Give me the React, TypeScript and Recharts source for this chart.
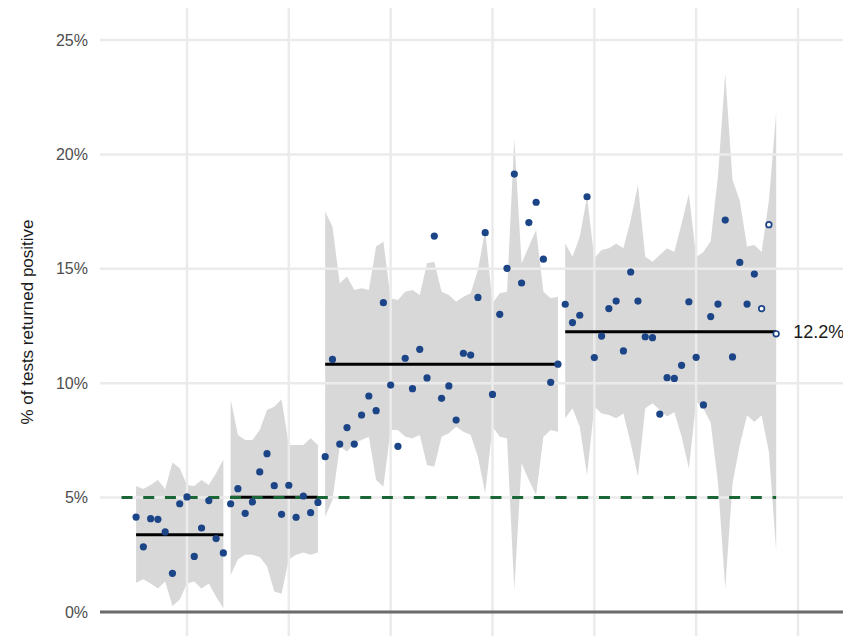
import React from 'react';
import { ComposedChart, Area, Line, XAxis, YAxis, ReferenceLine, LabelList } from 'recharts';

// Daily % of tests returned positive (index = day number)
const values: number[] = [
  // period 1
  4.15, 2.85, 4.08, 4.05, 3.50, 1.69, 4.73, 5.03, 2.43, 3.67, 4.87, 3.21, 2.58,
  // period 2
  4.73, 5.39, 4.31, 4.81, 6.12, 6.92, 5.52, 4.27, 5.54, 4.14, 5.07, 4.34, 4.79,
  // period 3
  6.79, 11.04, 7.34, 8.06, 7.34, 8.61, 9.44, 8.80, 13.52, 9.92, 7.24, 11.09, 9.76, 11.48, 10.23, 16.43,
  9.34, 9.88, 8.39, 11.31, 11.23, 13.75, 16.58, 9.51, 13.01, 15.02, 19.14, 14.38, 17.02, 17.91, 15.42, 10.04, 10.83,
  // period 4
  13.45, 12.65, 12.97, 18.15, 11.12, 12.06, 13.26, 13.59, 11.41, 14.86, 13.59, 12.03, 11.99, 8.65, 10.24,
  10.21, 10.78, 13.56, 11.13, 9.05, 12.91, 13.46, 17.13, 11.15, 15.28, 13.46, 14.77, 13.26, 16.93, 12.16,
];

const upper: number[] = [
  5.51, 5.38, 5.55, 5.77, 5.36, 6.53, 6.28, 5.55, 5.51, 5.77, 5.55, 6.06, 6.67,
  9.30, 7.74, 7.52, 7.52, 7.95, 8.83, 8.97, 9.30, 7.30, 7.30, 7.30, 7.59, 7.30,
  17.50, 16.84, 14.37, 14.66, 14.07, 14.15, 14.07, 15.97, 16.18, 13.71, 13.64, 14.0, 14.07, 13.86, 15.24, 15.31,
  14.0, 13.86, 13.56, 13.78, 13.93, 14.95, 16.70, 13.49, 13.93, 14.0, 20.70, 15.24, 15.97, 16.70, 14.0, 13.71, 13.78,
  16.11, 15.53, 16.40, 18.15, 15.46, 15.82, 15.90, 16.11, 15.90, 17.13, 18.66, 15.53, 15.31, 15.60, 15.90,
  15.74, 16.97, 18.28, 15.51, 15.74, 16.20, 19.05, 23.51, 18.89, 17.97, 15.97, 16.04, 15.74, 17.97, 21.82,
];

const lower: number[] = [
  1.28, 1.43, 1.25, 1.03, 1.33, 0.26, 0.55, 1.25, 1.33, 1.03, 1.25, 0.67, 0.16,
  1.6, 2.3, 2.5, 2.5, 2.4, 2.0, 0.9, 0.8, 2.3, 2.5, 2.6, 2.5, 2.6,
  4.17, 4.90, 7.23, 7.01, 7.37, 7.52, 7.66, 5.77, 5.48, 7.95, 7.95, 7.66, 7.59, 7.74, 6.42, 6.35,
  7.66, 7.81, 8.10, 7.88, 7.74, 6.79, 5.19, 8.10, 7.66, 7.59, 0.96, 6.50, 5.77, 5.11, 7.66, 7.95, 7.88,
  8.47, 8.90, 8.10, 5.99, 8.97, 8.68, 8.61, 8.47, 8.68, 7.37, 5.91, 8.90, 9.12, 8.83, 8.54,
  8.74, 7.66, 6.27, 9.20, 8.89, 8.27, 5.66, 1.04, 5.6, 7.3, 8.6, 8.3, 8.6, 7.0, 2.7,
];

// periods: first and last day index, and the period mean
const periodStart: number[] = [0, 13, 26, 59];
const periodEnd: number[] = [12, 25, 58, 88];
const periodMean: number[] = [3.38, 5.01, 10.83, 12.25];
const provisionalDays = 3; // last days shown as open circles
const threshold = 5;
const thresholdFrom = -2;
const currentLabel = '12.2%';

const yTicks: number[] = [0, 5, 10, 15, 20, 25];
const xGridTicks: number[] = [7, 21, 35, 49, 63, 77, 91];

const BLUE = '#1c4587';
const GREEN = '#1b6636';
const GRID = '#ebebeb';

type Row = { [k: string]: any };
const rows: Row[] = [];
for (let i = thresholdFrom; i < values.length; i++) {
  const r: Row = { i, thr: threshold };
  if (i >= 0) {
    const isOpen = i >= values.length - provisionalDays;
    r.vf = isOpen ? null : values[i];
    r.vo = isOpen ? values[i] : null;
    periodStart.forEach((s, p) => {
      if (i >= s && i <= periodEnd[p]) {
        r['band' + p] = [lower[i], upper[i]];
        r['mean' + p] = periodMean[p];
      }
    });
  }
  rows.push(r);
}
const lastRow = rows.length - 1;

export default function App() {
  return (
    <div style={{ position: 'absolute', left: 0, top: 0, fontFamily: '"Liberation Sans", Arial, sans-serif' }}>
      <ComposedChart width={843} height={636} data={rows} margin={{ top: 8, right: 0, bottom: 0, left: 0 }}>
        <XAxis
          type="number"
          dataKey="i"
          domain={[-4.96, 97.19]}
          ticks={xGridTicks}
          allowDataOverflow
          tick={false}
          tickLine={false}
          axisLine={false}
          height={0}
        />
        <YAxis
          type="number"
          domain={[-1.05, 26.4]}
          ticks={yTicks}
          allowDataOverflow
          width={100}
          tickLine={false}
          axisLine={false}
          tickSize={0}
          tickMargin={12}
          tickFormatter={(v: number) => `${v}%`}
          tick={{ fill: '#4d4d4d', fontSize: 16 }}
          label={{
            value: '% of tests returned positive',
            angle: -90,
            position: 'insideLeft',
            offset: 27,
            style: { textAnchor: 'middle', fill: '#1a1a1a', fontSize: 17 },
          }}
        />
        {yTicks.map((t) => (
          <ReferenceLine key={'hy' + t} y={t} stroke={GRID} strokeWidth={2.5} />
        ))}
        {xGridTicks.map((t) => (
          <ReferenceLine key={'vx' + t} x={t} stroke={GRID} strokeWidth={2.5} />
        ))}
        <ReferenceLine y={0} stroke="#6b6b6b" strokeWidth={3} />
        {periodStart.map((_, p) => (
          <Area
            key={'band' + p}
            dataKey={'band' + p}
            fill="#9e9e9e"
            fillOpacity={0.4}
            stroke="none"
            isAnimationActive={false}
            activeDot={false}
          />
        ))}
        {periodStart.map((_, p) => (
          <Line
            key={'mean' + p}
            dataKey={'mean' + p}
            stroke="#000"
            strokeWidth={3}
            dot={false}
            activeDot={false}
            isAnimationActive={false}
          >
            {p === periodStart.length - 1 ? (
              <LabelList
                dataKey={'mean' + p}
                content={(props: any) =>
                  props.index === lastRow ? (
                    <text x={props.x + 17} y={props.y} dy={6} fontSize={18} fill="#1a1a1a">
                      {currentLabel}
                    </text>
                  ) : null
                }
              />
            ) : null}
          </Line>
        ))}
        <Line
          dataKey="thr"
          stroke={GREEN}
          strokeWidth={3}
          strokeDasharray="11 10.7"
          dot={false}
          activeDot={false}
          isAnimationActive={false}
        />
        <Line
          dataKey="vf"
          stroke="none"
          dot={{ r: 3.6, fill: BLUE, stroke: BLUE, strokeWidth: 0 }}
          activeDot={false}
          isAnimationActive={false}
        />
        <Line
          dataKey="vo"
          stroke="none"
          dot={{ r: 2.8, fill: '#ffffff', stroke: BLUE, strokeWidth: 1.7 }}
          activeDot={false}
          isAnimationActive={false}
        />
      </ComposedChart>
    </div>
  );
}
